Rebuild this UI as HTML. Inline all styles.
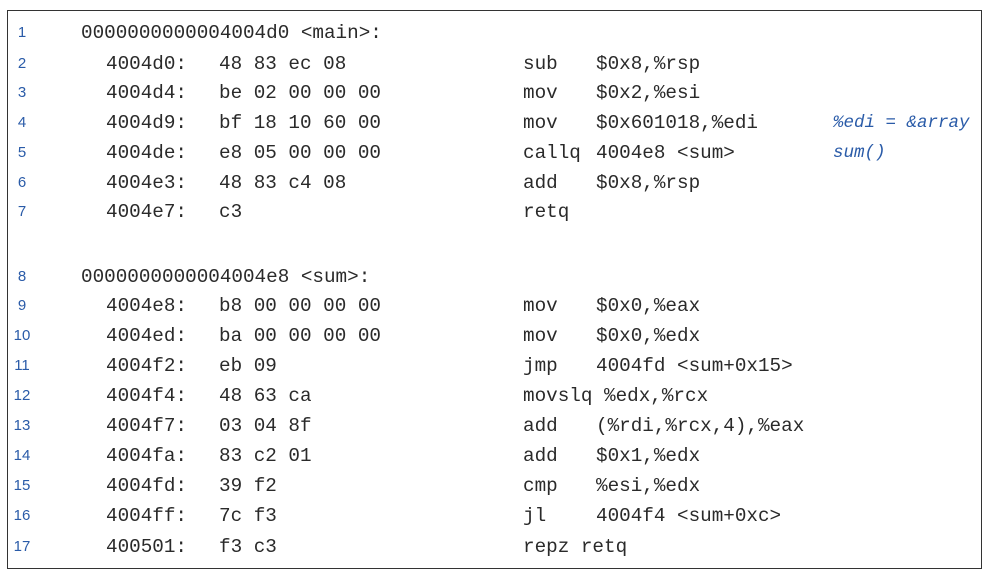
<!DOCTYPE html>
<html><head><meta charset="utf-8"><style>
body{margin:0;width:991px;height:582px;background:#fff;position:relative;overflow:hidden}
.box{position:absolute;left:7px;top:10px;width:975px;height:559px;border:1.5px solid #333;box-sizing:border-box}
.r{position:absolute;height:24px;line-height:24px;white-space:pre;font-family:"Liberation Mono",monospace;font-size:19.3px;color:#2a2a2a}
.n{position:absolute;left:13px;height:24px;line-height:24px;font-family:"Liberation Sans",sans-serif;font-size:15px;color:#2a5ba8;width:18px;text-align:center}
.c{position:absolute;left:833px;height:24px;line-height:24px;white-space:pre;font-family:"Liberation Mono",monospace;font-style:italic;font-size:17.5px;color:#2a5ba8}
</style></head><body>
<div class="box"></div>
<div class="n" style="top:21px">1</div><div class="r" style="left:81px;top:21px">0000000000004004d0 &lt;main&gt;:</div>
<div class="n" style="top:52px">2</div><div class="r" style="left:106px;top:52px">4004d0:</div><div class="r" style="left:219px;top:52px">48 83 ec 08</div><div class="r" style="left:523px;top:52px">sub</div><div class="r" style="left:596px;top:52px">$0x8,%rsp</div>
<div class="n" style="top:81px">3</div><div class="r" style="left:106px;top:81px">4004d4:</div><div class="r" style="left:219px;top:81px">be 02 00 00 00</div><div class="r" style="left:523px;top:81px">mov</div><div class="r" style="left:596px;top:81px">$0x2,%esi</div>
<div class="n" style="top:111px">4</div><div class="r" style="left:106px;top:111px">4004d9:</div><div class="r" style="left:219px;top:111px">bf 18 10 60 00</div><div class="r" style="left:523px;top:111px">mov</div><div class="r" style="left:596px;top:111px">$0x601018,%edi</div><div class="c" style="top:111px">%edi = &amp;array</div>
<div class="n" style="top:141px">5</div><div class="r" style="left:106px;top:141px">4004de:</div><div class="r" style="left:219px;top:141px">e8 05 00 00 00</div><div class="r" style="left:523px;top:141px">callq</div><div class="r" style="left:596px;top:141px">4004e8 &lt;sum&gt;</div><div class="c" style="top:141px">sum()</div>
<div class="n" style="top:171px">6</div><div class="r" style="left:106px;top:171px">4004e3:</div><div class="r" style="left:219px;top:171px">48 83 c4 08</div><div class="r" style="left:523px;top:171px">add</div><div class="r" style="left:596px;top:171px">$0x8,%rsp</div>
<div class="n" style="top:200px">7</div><div class="r" style="left:106px;top:200px">4004e7:</div><div class="r" style="left:219px;top:200px">c3</div><div class="r" style="left:523px;top:200px">retq</div>
<div class="n" style="top:265px">8</div><div class="r" style="left:81px;top:265px">0000000000004004e8 &lt;sum&gt;:</div>
<div class="n" style="top:294px">9</div><div class="r" style="left:106px;top:294px">4004e8:</div><div class="r" style="left:219px;top:294px">b8 00 00 00 00</div><div class="r" style="left:523px;top:294px">mov</div><div class="r" style="left:596px;top:294px">$0x0,%eax</div>
<div class="n" style="top:324px">10</div><div class="r" style="left:106px;top:324px">4004ed:</div><div class="r" style="left:219px;top:324px">ba 00 00 00 00</div><div class="r" style="left:523px;top:324px">mov</div><div class="r" style="left:596px;top:324px">$0x0,%edx</div>
<div class="n" style="top:354px">11</div><div class="r" style="left:106px;top:354px">4004f2:</div><div class="r" style="left:219px;top:354px">eb 09</div><div class="r" style="left:523px;top:354px">jmp</div><div class="r" style="left:596px;top:354px">4004fd &lt;sum+0x15&gt;</div>
<div class="n" style="top:384px">12</div><div class="r" style="left:106px;top:384px">4004f4:</div><div class="r" style="left:219px;top:384px">48 63 ca</div><div class="r" style="left:523px;top:384px">movslq</div><div class="r" style="left:604px;top:384px">%edx,%rcx</div>
<div class="n" style="top:414px">13</div><div class="r" style="left:106px;top:414px">4004f7:</div><div class="r" style="left:219px;top:414px">03 04 8f</div><div class="r" style="left:523px;top:414px">add</div><div class="r" style="left:596px;top:414px">(%rdi,%rcx,4),%eax</div>
<div class="n" style="top:444px">14</div><div class="r" style="left:106px;top:444px">4004fa:</div><div class="r" style="left:219px;top:444px">83 c2 01</div><div class="r" style="left:523px;top:444px">add</div><div class="r" style="left:596px;top:444px">$0x1,%edx</div>
<div class="n" style="top:474px">15</div><div class="r" style="left:106px;top:474px">4004fd:</div><div class="r" style="left:219px;top:474px">39 f2</div><div class="r" style="left:523px;top:474px">cmp</div><div class="r" style="left:596px;top:474px">%esi,%edx</div>
<div class="n" style="top:504px">16</div><div class="r" style="left:106px;top:504px">4004ff:</div><div class="r" style="left:219px;top:504px">7c f3</div><div class="r" style="left:523px;top:504px">jl</div><div class="r" style="left:596px;top:504px">4004f4 &lt;sum+0xc&gt;</div>
<div class="n" style="top:535px">17</div><div class="r" style="left:106px;top:535px">400501:</div><div class="r" style="left:219px;top:535px">f3 c3</div><div class="r" style="left:523px;top:535px">repz retq</div>
</body></html>
